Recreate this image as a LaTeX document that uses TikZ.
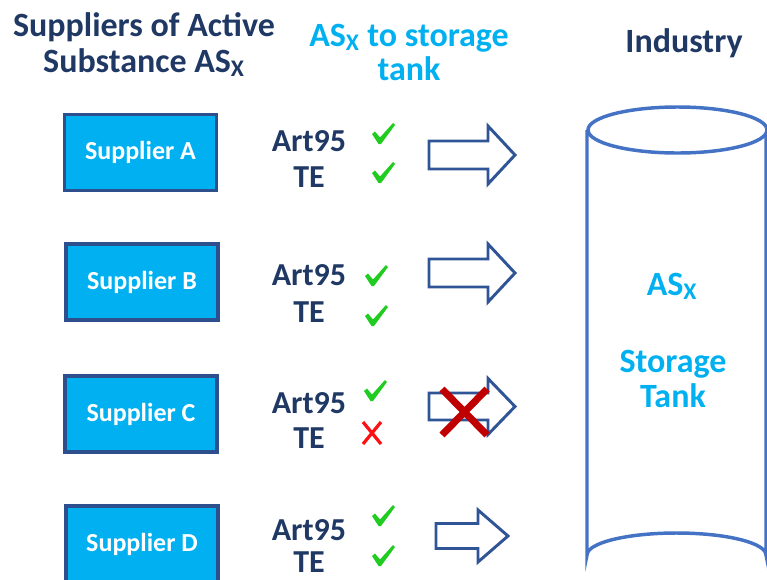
\documentclass[tikz,border=0pt]{standalone}
\usepackage{fontspec}
\setmainfont{Carlito}
\definecolor{navy}{HTML}{1F3864}
\definecolor{cyanT}{HTML}{00B0F0}
\definecolor{arrowc}{HTML}{2F5597}
\definecolor{boxb}{HTML}{2E4F8E}
\definecolor{tankc}{HTML}{4472C4}
\definecolor{okgreen}{HTML}{1FCC1F}
\definecolor{badred}{HTML}{FF1010}
\definecolor{bigred}{HTML}{C00000}
\newcommand{\blockarrow}[5]{% x0, xh, xt, center y, shaft half
  \draw[arrowsty] (#1,#4-#5) -- (#2,#4-#5) -- (#2,#4-2*#5-1) -- (#3,#4) -- (#2,#4+2*#5+1) -- (#2,#4+#5) -- (#1,#4+#5) -- cycle;}
\begin{document}
\begin{tikzpicture}[x=0.75pt,y=-0.75pt,
  head/.style={font=\fontsize{25.5}{30}\selectfont\bfseries, anchor=base, inner sep=0pt},
  navyhead/.style={head, text=navy},
  cyanhead/.style={head, text=cyanT},
  supplier/.style={draw=boxb, line width=2.6pt, fill=cyanT, text=white,
     font=\fontsize{19.5}{22}\selectfont\bfseries, minimum width=114pt, minimum height=57pt, inner sep=0pt},
  rule/.style={font=\fontsize{24}{28}\selectfont\bfseries, text=navy, anchor=base, inner sep=0pt},
  arrowsty/.style={draw=arrowc, line width=2.2pt, fill=white, line join=miter},
  chk/.pic={\fill[okgreen] (-11,0) -- (-8,-2.5) -- (-3,3.5) -- (10,-11) -- (12,-9) -- (-2,10) -- (-4.5,10) -- cycle;},
  nok/.pic={\draw[badred, line width=2.4pt] (-9,-11) -- (9,11) (9,-11) -- (-9,11);},
]
\useasboundingbox (0,0) rectangle (767,579);
\clip (0,0) rectangle (767,579);

% headings
\node[navyhead] (t1) at (144,36) {Suppliers of Active};
\node[navyhead] (t2) at (144,72) {Substance AS\textsubscript{X}};
\node[cyanhead] (m1) at (409,46) {AS\textsubscript{X} to storage};
\node[cyanhead] (m2) at (409,80) {tank};
\node[navyhead] (ind) at (684,52) {Industry};

% supplier boxes
\node[supplier] (sA) at (140.5,152.5) {Supplier A};
\node[supplier] (sB) at (142,282) {Supplier B};
\node[supplier] (sC) at (141,414) {Supplier C};
\node[supplier] (sD) at (142,544) {Supplier D};

% rules
\node[rule] (aA) at (309,151) {Art95};
\node[rule] (eA) at (309,187) {TE};
\node[rule] (aB) at (309,285) {Art95};
\node[rule] (eB) at (309,322) {TE};
\node[rule] (aC) at (309,413) {Art95};
\node[rule] (eC) at (309,448) {TE};
\node[rule] (aD) at (309,540) {Art95};
\node[rule] (eD) at (309,572) {TE};

% ticks and crosses
\pic at (383,134) {chk};
\pic at (383,173) {chk};
\pic at (376,276) {chk};
\pic at (376,316) {chk};
\pic at (375,391) {chk};
\pic at (372,433) {nok};
\pic at (383,516) {chk};
\pic at (383,556) {chk};

% block arrows
\blockarrow{429}{488}{515}{155}{14}
\blockarrow{429}{488}{515}{273}{14}
\blockarrow{429}{488}{515}{406.5}{13.5}
\blockarrow{436}{478}{508}{536}{12.5}
\draw[bigred, line width=5.3pt] (442,389) -- (487,435) (487,389) -- (442,435);

% storage tank
\draw[tankc, line width=2.6pt] (587,130) -- (587,555) arc[start angle=180, end angle=360, x radius=89.5, y radius=22] -- (766,130);
\draw[tankc, line width=2.6pt, fill=white] (677.5,130) ellipse[x radius=89.5, y radius=23];
\node[cyanhead] (k1) at (672,295) {AS\textsubscript{X}};
\node[cyanhead] (k2) at (673,372) {Storage};
\node[cyanhead] (k3) at (673,407) {Tank};
\end{tikzpicture}
\end{document}
